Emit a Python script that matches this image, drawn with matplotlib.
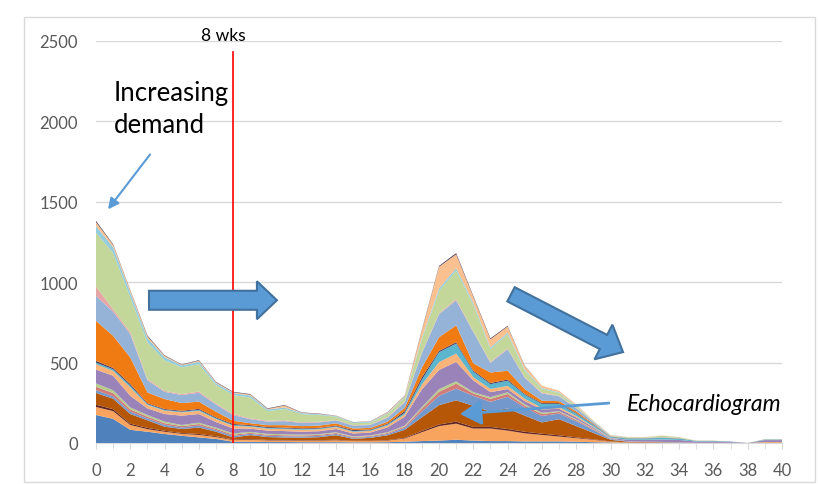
import matplotlib
matplotlib.use("Agg")
import matplotlib.pyplot as plt
import matplotlib.transforms as mtransforms
from matplotlib.patches import Polygon, Rectangle
import numpy as np

plt.rcParams["font.family"] = ["Lato", "DejaVu Sans"]

# ─── DATA ─────────────────────────────────────────────────────────────────────
weeks = list(range(41))

blue_base = [174, 150, 82, 70, 56, 45, 35, 25, 8, 8, 6, 6, 5, 5, 5, 4, 4, 5, 8, 12, 15,
             20, 15, 12, 12, 10, 10, 10, 8, 5, 3, 1, 1, 1, 1, 0, 0, 0, 0, 1, 1]
peach_low = [50, 48, 30, 16, 14, 12, 15, 12, 10, 12, 10, 10, 10, 10, 12, 8, 8, 10, 20, 55, 90,
             100, 75, 78, 65, 50, 40, 30, 22, 15, 5, 3, 2, 2, 1, 1, 1, 1, 0, 5, 5]
darkred = [14, 12, 8, 8, 6, 5, 6, 5, 4, 4, 3, 3, 3, 3, 3, 2, 2, 3, 4, 8, 10,
           13, 10, 10, 10, 10, 8, 8, 5, 3, 2, 0, 0, 0, 0, 0, 0, 0, 0, 0, 0]
brown = [73, 65, 60, 47, 25, 25, 40, 28, 12, 25, 18, 15, 15, 18, 28, 12, 18, 30, 50, 85, 120,
         132, 131, 95, 128, 100, 70, 100, 70, 40, 10, 4, 3, 2, 1, 0, 0, 0, 0, 0, 0]
midblue = [17, 15, 15, 12, 12, 10, 12, 10, 10, 8, 8, 8, 8, 8, 8, 6, 6, 8, 12, 35, 58,
           73, 62, 61, 72, 50, 40, 35, 30, 18, 5, 2, 2, 2, 1, 0, 0, 0, 0, 0, 0]
rose = [22, 20, 14, 11, 10, 8, 10, 8, 8, 6, 6, 6, 6, 6, 6, 5, 5, 6, 8, 18, 25,
        31, 15, 18, 18, 12, 12, 10, 8, 5, 2, 0, 0, 0, 0, 0, 0, 0, 0, 0, 0]
olive_thin = [20, 18, 12, 10, 10, 7, 8, 7, 8, 6, 6, 6, 5, 5, 5, 4, 4, 5, 6, 10, 17,
              14, 8, 11, 10, 8, 8, 5, 5, 3, 1, 0, 0, 0, 0, 0, 0, 0, 0, 0, 0]
purple = [86, 90, 72, 41, 47, 58, 54, 35, 30, 20, 20, 20, 18, 18, 20, 18, 18, 30, 55, 110, 119,
          121, 73, 31, 20, 20, 20, 15, 12, 8, 3, 10, 12, 15, 15, 8, 8, 5, 0, 12, 12]
peach_mid = [34, 30, 52, 21, 21, 20, 20, 18, 16, 12, 12, 12, 12, 12, 12, 10, 10, 12, 15, 30, 48,
             52, 20, 20, 20, 15, 10, 10, 8, 5, 2, 0, 0, 0, 0, 0, 0, 0, 0, 0, 0]
aqua = [10, 10, 12, 6, 5, 5, 6, 6, 6, 5, 5, 5, 5, 5, 5, 5, 5, 6, 10, 30, 62,
        62, 34, 30, 32, 25, 25, 20, 15, 10, 5, 8, 8, 10, 8, 3, 3, 2, 0, 3, 3]
plum = [10, 8, 9, 5, 5, 5, 6, 5, 6, 5, 5, 5, 4, 4, 4, 6, 4, 5, 10, 15, 8,
        8, 7, 7, 7, 5, 5, 5, 4, 3, 1, 1, 1, 1, 1, 1, 1, 1, 0, 1, 1]
orange = [249, 200, 165, 67, 62, 48, 45, 35, 20, 12, 12, 15, 14, 14, 14, 10, 10, 12, 20, 60, 85,
          105, 45, 65, 55, 30, 15, 12, 10, 5, 2, 1, 1, 1, 1, 0, 0, 0, 0, 0, 0]
lightblue = [155, 150, 145, 75, 45, 50, 55, 45, 35, 25, 22, 25, 20, 20, 18, 18, 18, 25, 35, 90, 143,
             155, 195, 60, 134, 70, 45, 30, 20, 10, 3, 2, 2, 2, 2, 0, 0, 0, 0, 0, 0]
pink = [58, 15, 12, 8, 6, 6, 8, 6, 7, 5, 5, 5, 4, 4, 3, 3, 3, 3, 4, 5, 5,
        8, 5, 5, 5, 5, 5, 3, 3, 1, 0, 0, 0, 0, 0, 0, 0, 0, 0, 0, 0]
lightgreen = [335, 350, 217, 228, 190, 166, 170, 115, 118, 130, 60, 70, 50, 42, 20, 12, 12, 20, 25, 80, 140,
              178, 165, 80, 88, 40, 25, 17, 10, 5, 2, 4, 4, 10, 5, 2, 2, 0, 0, 2, 2]
skyblue = [41, 35, 30, 26, 20, 12, 15, 12, 12, 12, 10, 10, 7, 5, 4, 5, 5, 5, 5, 10, 15,
           15, 12, 10, 10, 8, 5, 5, 3, 2, 2, 0, 0, 0, 0, 0, 0, 0, 0, 0, 0]
peach_top = [25, 15, 12, 12, 8, 4, 7, 5, 5, 6, 4, 12, 2, 2, 2, 1, 2, 5, 6, 45, 135,
             86, 37, 52, 38, 20, 13, 10, 7, 2, 2, 2, 1, 1, 1, 0, 0, 0, 0, 0, 0]
navy_top = [7, 4, 3, 5, 3, 2, 3, 3, 3, 3, 3, 3, 2, 2, 1, 1, 1, 2, 2, 5, 5,
            7, 5, 5, 4, 2, 0, 0, 0, 0, 0, 0, 0, 0, 0, 0, 0, 0, 0, 0, 0]

layers = [blue_base, peach_low, darkred, brown, midblue, rose, olive_thin, purple,
          peach_mid, aqua, plum, orange, lightblue, pink, lightgreen, skyblue,
          peach_top, navy_top]
colors = ["#4F81BD", "#F9A45E", "#632523", "#B65708", "#7399CC", "#D07C7A",
          "#B5CE8A", "#9A83B8", "#FAB47A", "#5BB5CC", "#4A3A64", "#F07B12",
          "#95B3D7", "#E6A5A4", "#C4D79B", "#93CDDD", "#FAC090", "#403152"]

x_ticks = list(range(0, 41, 2))
y_ticks = [0, 500, 1000, 1500, 2000, 2500]


def block_arrow(ax, tail, tip, body_w, head_w, head_l):
    # widths given in pixels, ends in data coords
    p0 = ax.transData.transform(tail)
    p1 = ax.transData.transform(tip)
    d = p1 - p0
    u = d / np.hypot(*d)
    n = np.array([-u[1], u[0]])
    base = p1 - u * head_l
    pts = [p0 + n * body_w / 2, base + n * body_w / 2, base + n * head_w / 2, p1,
           base - n * head_w / 2, base - n * body_w / 2, p0 - n * body_w / 2]
    ax.add_patch(Polygon(pts, closed=True, transform=mtransforms.IdentityTransform(),
                         facecolor="#5B9BD5", edgecolor="#41719C", lw=1.5, zorder=5))


# ─── FIGURE ───────────────────────────────────────────────────────────────────
fig = plt.figure(figsize=(8.18, 4.85), dpi=100)
ax = fig.add_axes([96 / 818, 41 / 485, 686 / 818, 402.3 / 485])

fig.add_artist(Rectangle((24 / 818, 2 / 485), 791 / 818, 465 / 485,
                         transform=fig.transFigure, fill=False,
                         edgecolor="#D9D9D9", lw=1))

ax.stackplot(weeks, *layers, colors=colors, lw=0, zorder=2)

ax.set_xlim(0, 40)
ax.set_ylim(0, 2500)
ax.set_xticks(x_ticks)
ax.set_xticks(weeks, minor=True)
ax.set_yticks(y_ticks)
ax.yaxis.grid(True, color="#D9D9D9", lw=1)
ax.set_axisbelow(True)
for s in ["left", "right", "top"]:
    ax.spines[s].set_visible(False)
ax.spines["bottom"].set_color("#D9D9D9")
ax.tick_params(axis="y", length=0, pad=13, labelsize=12, labelcolor="#595959")
ax.tick_params(axis="x", which="both", length=4, color="#D9D9D9",
               pad=10, labelsize=12, labelcolor="#595959")

# 8 week marker
ax.plot([8, 8], [0, 2430], color="red", lw=1.2, zorder=4)
ax.text(7.4, 2537, "8 wks", ha="center", va="center", fontsize=12.5, color="black")

# increasing demand note
ax.text(1.05, 2177, "Increasing", va="center", fontsize=18.5, color="black")
ax.text(1.05, 1979, "demand", va="center", fontsize=18.5, color="black")
ax.annotate("", xy=(0.7, 1452), xytext=(3.15, 1793),
            arrowprops=dict(arrowstyle="-|>", color="#5B9BD5", lw=1.5,
                            mutation_scale=16, shrinkA=0, shrinkB=0))

# echocardiogram note
ax.text(30.96, 248, "Echocardiogram", style="italic", va="center", fontsize=16.5,
        color="black")
ax.annotate("", xy=(21.22, 180), xytext=(29.9, 248),
            arrowprops=dict(arrowstyle="-|>,head_length=0.6,head_width=0.35",
                            color="#5B9BD5", lw=2, mutation_scale=22,
                            shrinkA=0, shrinkB=0), zorder=6)

# big block arrows
block_arrow(ax, (3.09, 887), (10.55, 887), 19, 38, 20)
block_arrow(ax, (24.2, 924), (30.73, 565), 16, 39, 22)

fig.savefig("out.png", dpi=100)
